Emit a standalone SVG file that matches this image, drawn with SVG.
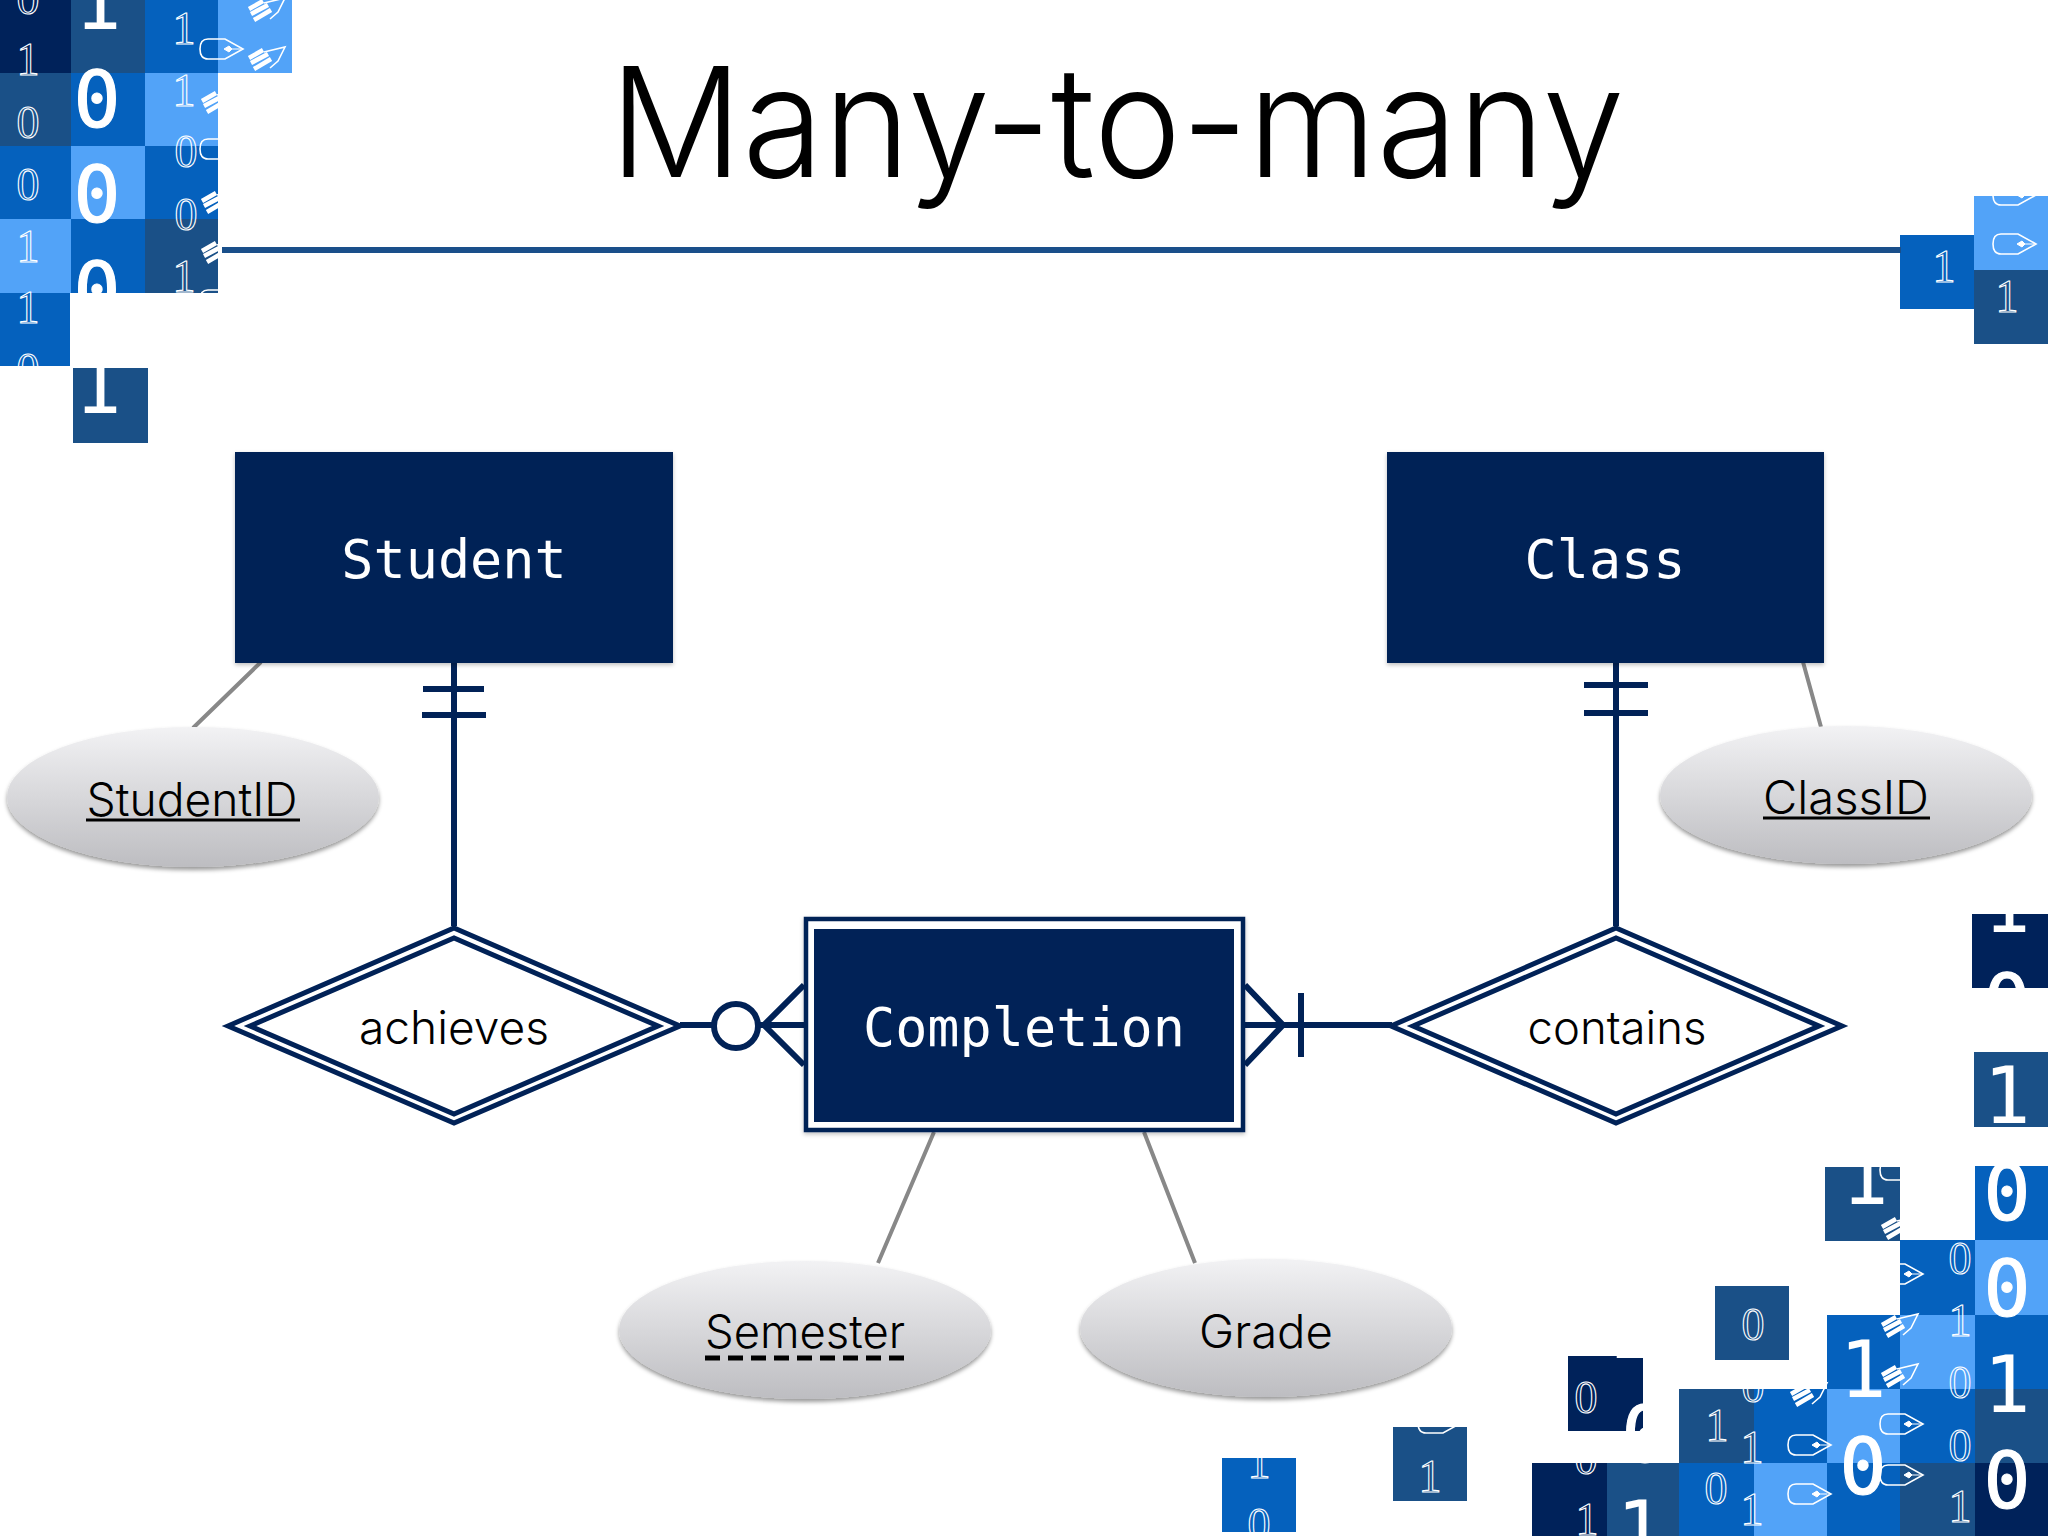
<svg xmlns="http://www.w3.org/2000/svg" width="2048" height="1536" viewBox="0 0 2048 1536">
<style>
.d{fill:#00225a}.m{fill:#1a5087}.b{fill:#0561bd}.l{fill:#52a3f8}
.t{font-family:"Liberation Serif",serif;font-size:46px;fill:none;stroke:#fff;stroke-width:1.1;text-anchor:middle}
.o{font-family:"DejaVu Sans Mono",monospace;font-size:78px;fill:#fff;stroke:#fff;stroke-width:1.2;text-anchor:middle}
.i{font-family:"DejaVu Sans Mono",monospace;font-size:78px;fill:#fff;text-anchor:middle}
.ent{fill:#012257;filter:url(#rs)}
.enttxt{font-family:"DejaVu Sans Mono",monospace;font-size:53.5px;fill:#fff;text-anchor:middle}
.lab{font-family:"Inter","Liberation Sans",sans-serif;font-weight:300;font-size:46px;fill:#000;text-anchor:middle}
.dia{fill:#fff;stroke:#012257;stroke-width:5}
.conn{stroke:#012257;stroke-width:6;fill:none}
.attr{stroke:#888;stroke-width:4;fill:none}
.ell{fill:url(#eg);filter:url(#sh)}
.pn{fill:none;stroke:#fff;stroke-width:1.6}
</style>
<defs>
<linearGradient id="eg" x1="0" y1="0" x2="0" y2="1"><stop offset="0" stop-color="#f2f2f4"/><stop offset="1" stop-color="#bdbdc1"/></linearGradient>
<filter id="sh" x="-10%" y="-10%" width="120%" height="130%"><feDropShadow dx="0" dy="3" stdDeviation="2" flood-color="#000" flood-opacity=".4"/></filter>
<filter id="rs" x="-5%" y="-5%" width="110%" height="115%"><feDropShadow dx="0" dy="2" stdDeviation="2" flood-color="#000" flood-opacity=".25"/></filter>
<g id="pen"><path class="pn" d="M8-10H25L43 0 25 10H8Q0 10 0 0 0-10 8-10Z"/><path d="M24 0l5-3 3 3-3 3zM30 0H41" fill="#fff" stroke="#fff"/></g>
<g id="pencil"><path class="pn" d="M16 5 37 0 30 14 22 21"/><path d="M1 11 15 3M3 16 20 7M6 22 23 12" stroke="#fff" stroke-width="4.5" fill="none"/></g>
<clipPath id="tc">
<rect x="0" y="0" width="292" height="73"/><rect x="0" y="73" width="218" height="220"/><rect x="0" y="293" width="70" height="73"/><rect x="73" y="368" width="75" height="75"/>
<rect x="1900" y="235" width="75" height="74"/><rect x="1974" y="196" width="74" height="148"/>
<rect x="1972" y="914" width="76" height="74"/><rect x="1974" y="1052" width="74" height="75"/>
<rect x="1975" y="1166" width="73" height="370"/><rect x="1825" y="1167" width="75" height="74"/><rect x="1900" y="1240" width="75" height="296"/><rect x="1827" y="1315" width="73" height="221"/>
<rect x="1715" y="1286" width="74" height="74"/><rect x="1679" y="1389" width="148" height="147"/><rect x="1532" y="1463" width="147" height="73"/>
<rect x="1568" y="1356" width="75" height="75"/><rect x="1222" y="1458" width="74" height="74"/><rect x="1393" y="1427" width="74" height="74"/>
</clipPath>
</defs>
<rect width="2048" height="1536" fill="#fff"/>

<g id="pattern" clip-path="url(#tc)">
<rect class="d" x="0" y="0" width="71" height="73"/><rect class="m" x="71" y="0" width="74" height="73"/><rect class="b" x="145" y="0" width="73" height="73"/><rect class="l" x="218" y="0" width="74" height="73"/>
<rect class="m" x="0" y="73" width="71" height="73"/><rect class="b" x="71" y="73" width="74" height="73"/><rect class="l" x="145" y="73" width="73" height="73"/>
<rect class="b" x="0" y="146" width="71" height="73"/><rect class="l" x="71" y="146" width="74" height="73"/><rect class="b" x="145" y="146" width="73" height="73"/>
<rect class="l" x="0" y="219" width="71" height="74"/><rect class="b" x="71" y="219" width="74" height="74"/><rect class="m" x="145" y="219" width="73" height="74"/>
<rect class="b" x="0" y="293" width="70" height="73"/><rect class="m" x="73" y="368" width="75" height="75"/>
<rect class="b" x="1900" y="235" width="75" height="74"/><rect class="l" x="1974" y="196" width="74" height="74"/><rect class="m" x="1974" y="270" width="74" height="74"/>
<rect class="d" x="1972" y="914" width="76" height="74"/><rect class="m" x="1974" y="1052" width="74" height="75"/>
<rect class="b" x="1975" y="1166" width="73" height="74"/><rect class="l" x="1975" y="1240" width="73" height="75"/><rect class="b" x="1975" y="1315" width="73" height="74"/><rect class="m" x="1975" y="1389" width="73" height="74"/><rect class="d" x="1975" y="1463" width="73" height="73"/>
<rect class="m" x="1825" y="1167" width="75" height="74"/><rect class="b" x="1900" y="1240" width="75" height="75"/><rect class="l" x="1900" y="1315" width="75" height="74"/><rect class="b" x="1900" y="1389" width="75" height="74"/><rect class="m" x="1900" y="1463" width="75" height="73"/>
<rect class="b" x="1827" y="1315" width="73" height="74"/><rect class="l" x="1827" y="1389" width="73" height="74"/><rect class="b" x="1827" y="1463" width="73" height="73"/>
<rect class="m" x="1715" y="1286" width="74" height="74"/><rect class="m" x="1679" y="1389" width="75" height="74"/><rect class="b" x="1754" y="1389" width="73" height="74"/><rect class="b" x="1679" y="1463" width="75" height="73"/><rect class="l" x="1754" y="1463" width="73" height="73"/>
<rect class="d" x="1532" y="1463" width="75" height="73"/><rect class="m" x="1607" y="1463" width="72" height="73"/>
<rect class="d" x="1568" y="1356" width="75" height="75"/><rect class="b" x="1222" y="1458" width="74" height="74"/><rect class="m" x="1393" y="1427" width="74" height="74"/>
<text class="t" x="28" y="14">0</text><text class="t" x="184" y="44">1</text><text class="t" x="28" y="75">1</text><text class="t" x="184" y="106">1</text><text class="t" x="28" y="138">0</text><text class="t" x="186" y="167">0</text><text class="t" x="28" y="200">0</text><text class="t" x="186" y="230">0</text><text class="t" x="28" y="262">1</text><text class="t" x="184" y="292">1</text><text class="t" x="28" y="323">1</text><text class="t" x="28" y="385">0</text>
<text class="t" x="1944" y="282">1</text><text class="t" x="2007" y="312">1</text>
<text class="t" x="1960" y="1274">0</text><text class="t" x="1960" y="1336">1</text><text class="t" x="1960" y="1398">0</text><text class="t" x="1960" y="1461">0</text><text class="t" x="1960" y="1522">1</text>
<text class="t" x="1753" y="1340">0</text><text class="t" x="1753" y="1402">0</text><text class="t" x="1717" y="1441">1</text><text class="t" x="1752" y="1463">1</text><text class="t" x="1716" y="1504">0</text><text class="t" x="1752" y="1525">1</text>
<text class="t" x="1586" y="1413">0</text><text class="t" x="1586" y="1474">0</text><text class="t" x="1587" y="1535">1</text>
<text class="t" x="1259" y="1478">1</text><text class="t" x="1259" y="1540">0</text><text class="t" x="1430" y="1492">1</text>
<text class="i" x="98" y="29">1</text><text class="o" x="97" y="127">0</text><text class="o" x="97" y="222">0</text><text class="o" x="97" y="318">0</text><text class="i" x="98" y="413">1</text>
<text class="i" x="2007" y="932">1</text><text class="o" x="2007" y="1030">0</text><text class="i" x="2007" y="1123">1</text><text class="o" x="2007" y="1220">0</text><text class="o" x="2007" y="1316">0</text><text class="i" x="2007" y="1412">1</text><text class="o" x="2007" y="1508">0</text>
<text class="i" x="1865" y="1204">1</text><text class="i" x="1863" y="1397">1</text><text class="o" x="1863" y="1494">0</text>
<text class="i" x="1630" y="1358">1</text><text class="o" x="1645" y="1462">0</text><text class="i" x="1640" y="1557">1</text>
<use href="#pen" x="200" y="49"/><use href="#pen" x="200" y="149"/><use href="#pen" x="200" y="300"/>
<use href="#pen" x="1993" y="195"/><use href="#pen" x="1993" y="244"/>
<use href="#pen" x="1880" y="1170"/><use href="#pen" x="1880" y="1274"/><use href="#pen" x="1880" y="1424"/><use href="#pen" x="1880" y="1475"/><use href="#pen" x="1788" y="1445"/><use href="#pen" x="1788" y="1494"/><use href="#pen" x="1418" y="1423"/>
<use href="#pencil" x="248" y="-2"/><use href="#pencil" x="248" y="47"/><use href="#pencil" x="201" y="90"/><use href="#pencil" x="201" y="190"/><use href="#pencil" x="201" y="240"/>
<use href="#pencil" x="1881" y="1216"/><use href="#pencil" x="1881" y="1314"/><use href="#pencil" x="1881" y="1364"/><use href="#pencil" x="1790" y="1383"/>
</g>

<text id="title" x="1117" y="177" text-anchor="middle" font-family="Inter,'Liberation Sans',sans-serif" font-weight="300" font-size="153" textLength="1015" lengthAdjust="spacingAndGlyphs" fill="#000">Many-to-many</text>
<rect id="rule" x="222" y="247" width="1679" height="6" fill="#1a4f8a"/>

<g id="connectors">
<path class="attr" d="M261 662 193 728M1803 662 1821 727M934 1132 878 1263M1144 1132 1195 1263"/>
<path class="conn" d="M454 662V926M423 689H484M422 715H486"/>
<path class="conn" d="M1616 662V926M1584 685H1648M1584 713H1648"/>
<path class="conn" d="M680 1025H714M758 1025H804M804 985 764 1025 804 1065"/>
<path class="conn" d="M1244 1025H1392M1245 985 1283 1025 1245 1065M1301 993V1057"/>
<circle cx="736" cy="1026" r="22" fill="#fff" stroke="#012257" stroke-width="6"/>
</g>

<g id="student"><rect class="ent" x="235" y="452" width="438" height="211"/><text class="enttxt" x="454" y="578">Student</text></g>
<g id="class"><rect class="ent" x="1387" y="452" width="437" height="211"/><text class="enttxt" x="1605" y="578">Class</text></g>
<g id="completion"><rect x="806" y="919" width="437" height="211" fill="#fff" stroke="#012257" stroke-width="4.5" filter="url(#rs)"/><rect x="814" y="929" width="420" height="193" fill="#012257"/><text class="enttxt" x="1024" y="1046">Completion</text></g>

<g id="achieves"><polygon class="dia" points="228,1026 454,928 680,1026 454,1123"/><polygon class="dia" points="250,1026 454,938 658,1026 454,1114"/><text class="lab" x="454" y="1044" textLength="190" lengthAdjust="spacingAndGlyphs">achieves</text></g>
<g id="contains"><polygon class="dia" points="1391,1026 1616,928 1842,1026 1616,1123"/><polygon class="dia" points="1413,1026 1616,938 1819,1026 1616,1114"/><text class="lab" x="1617" y="1044" textLength="179" lengthAdjust="spacingAndGlyphs">contains</text></g>

<g id="studentid"><ellipse class="ell" cx="193" cy="797" rx="186" ry="70"/><text class="lab" x="192" y="816" textLength="211" lengthAdjust="spacingAndGlyphs">StudentID</text><path d="M86 820H300" stroke="#000" stroke-width="3"/></g>
<g id="classid"><ellipse class="ell" cx="1846" cy="795" rx="186" ry="69"/><text class="lab" x="1846" y="814" textLength="166" lengthAdjust="spacingAndGlyphs">ClassID</text><path d="M1763 818H1930" stroke="#000" stroke-width="3"/></g>
<g id="semester"><ellipse class="ell" cx="805" cy="1330" rx="186" ry="69"/><text class="lab" x="805" y="1348" textLength="200" lengthAdjust="spacingAndGlyphs">Semester</text><path d="M705 1358H908" stroke="#000" stroke-width="5" stroke-dasharray="15 8"/></g>
<g id="grade"><ellipse class="ell" cx="1266" cy="1328" rx="186" ry="69"/><text class="lab" x="1266" y="1348" textLength="134" lengthAdjust="spacingAndGlyphs">Grade</text></g>
</svg>
